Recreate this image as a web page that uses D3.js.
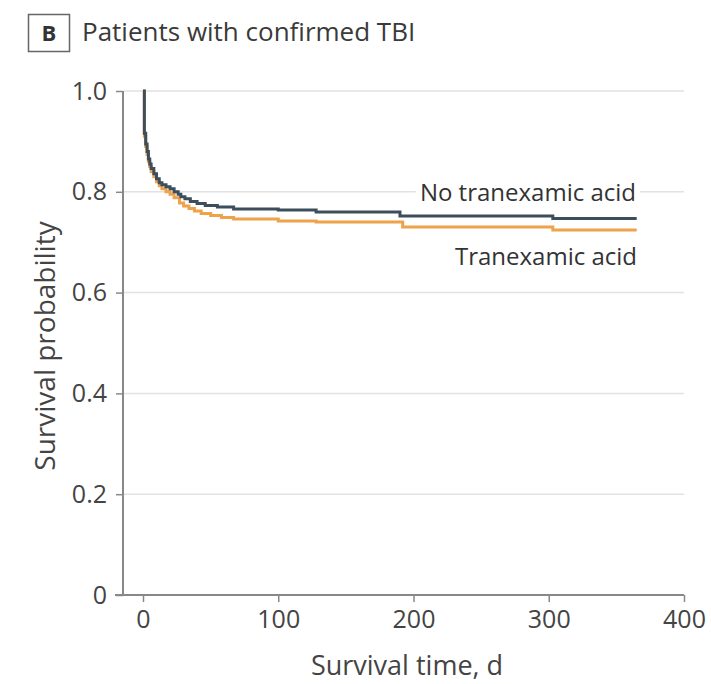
<!DOCTYPE html>
<html><head><meta charset="utf-8">
<script src="https://cdn.jsdelivr.net/npm/d3@7"></script>
<style>body{margin:0;background:#fff;} text{font-family:"Open Sans","Noto Sans",sans-serif;}</style>
</head><body><svg id="c" width="711" height="684"></svg>
<script>
const xTicks = [0, 100, 200, 300, 400];
const yTicks = [0, 0.2, 0.4, 0.6, 0.8, 1.0];
const yTickLabels = ["0", "0.2", "0.4", "0.6", "0.8", "1.0"];
// step points: [day, survival]
const noTxaDays = [0, 1, 2, 3, 4, 5, 6, 8, 10, 12, 14, 17, 20, 23, 26, 28, 31, 35, 40, 46, 55, 67, 100, 128, 190, 303, 365];
const noTxaSurv = [1.0, 0.916, 0.895, 0.88, 0.865, 0.855, 0.846, 0.836, 0.826, 0.818, 0.814, 0.81, 0.806, 0.8, 0.795, 0.79, 0.786, 0.781, 0.777, 0.773, 0.77, 0.766, 0.764, 0.76, 0.752, 0.747, 0.747];
const txaDays = [0, 1, 2, 3, 4, 5, 6, 8, 10, 12, 14, 17, 20, 23, 27, 30, 34, 38, 43, 50, 58, 67, 100, 128, 192, 303, 365];
const txaSurv = [1.0, 0.91, 0.89, 0.874, 0.86, 0.85, 0.84, 0.83, 0.82, 0.812, 0.806, 0.8, 0.795, 0.788, 0.778, 0.772, 0.767, 0.762, 0.757, 0.753, 0.749, 0.746, 0.742, 0.74, 0.73, 0.724, 0.724];
const seriesNames = ["No tranexamic acid", "Tranexamic acid"];
const colors = ["#3c4e5c", "#eea24a"];

const svg = d3.select("#c");
const x = d3.scaleLinear().domain([0, 400]).range([143, 684]);
const y = d3.scaleLinear().domain([0, 1]).range([595, 91]);

// title
svg.append("rect").attr("x", 28.5).attr("y", 14.5).attr("width", 41).attr("height", 37)
  .attr("fill", "none").attr("stroke", "#666").attr("stroke-width", 1.5);
svg.append("text").attr("x", 49).attr("y", 41).attr("text-anchor", "middle")
  .attr("font-size", 22).attr("font-weight", "bold").attr("fill", "#333").text("B");
svg.append("text").attr("x", 82).attr("y", 41).attr("font-size", 26).attr("fill", "#3a3a3a")
  .text("Patients with confirmed TBI");

// gridlines
svg.append("g").selectAll("line").data(yTicks.filter(d => d > 0)).join("line")
  .attr("x1", 124).attr("x2", 684).attr("y1", d => y(d)).attr("y2", d => y(d))
  .attr("stroke", "#e2e2e2").attr("stroke-width", 1.5);

// y axis
const yAxis = d3.axisLeft(y).tickValues(yTicks).tickFormat((d, i) => yTickLabels[i]).tickSize(7).tickPadding(9);
const gy = svg.append("g").attr("transform", "translate(123,0)").call(yAxis);
gy.select(".domain").attr("stroke", "#888").attr("stroke-width", 2).attr("d", `M0,${y(1)}V${y(0)}`);
gy.selectAll(".tick line").attr("stroke", "#888").attr("stroke-width", 1.5);
gy.selectAll(".tick text").attr("font-size", 25).attr("fill", "#444").attr("font-family", "Open Sans");

// x axis
const xAxis = d3.axisBottom(x).tickValues(xTicks).tickSize(7).tickPadding(8);
const gx = svg.append("g").attr("transform", "translate(0,595)").call(xAxis);
gx.select(".domain").attr("stroke", "#888").attr("stroke-width", 2).attr("d", "M115,0H684");
gx.selectAll(".tick line").attr("stroke", "#888").attr("stroke-width", 1.5);
gx.selectAll(".tick text").attr("font-size", 25).attr("fill", "#444").attr("font-family", "Open Sans");

// axis titles
svg.append("text").attr("transform", "translate(55,346) rotate(-90)").attr("text-anchor", "middle")
  .attr("font-size", 28).attr("fill", "#444").text("Survival probability");
svg.append("text").attr("x", 407).attr("y", 675).attr("text-anchor", "middle")
  .attr("font-size", 27).attr("fill", "#444").text("Survival time, d");

// labels with white backgrounds
function label(txt, xr, yc) {
  const g = svg.append("g");
  const r = g.append("rect").attr("fill", "#fff");
  const t = g.append("text").attr("x", xr).attr("y", yc).attr("text-anchor", "end")
    .attr("dominant-baseline", "central").attr("font-size", 24).attr("fill", "#333").text(txt);
  const bb = t.node().getBBox();
  r.attr("x", bb.x - 4).attr("y", bb.y).attr("width", bb.width + 8).attr("height", bb.height);
}
label(seriesNames[0], 636, 191);
label(seriesNames[1], 637, 255);

// curves
const line = d3.line().x(d => x(d[0])).y(d => y(d[1])).curve(d3.curveStepAfter);
[[txaDays, txaSurv, colors[1]], [noTxaDays, noTxaSurv, colors[0]]].forEach(([ds, ss, c]) => {
  svg.append("path").datum(ds.map((d, i) => [d, ss[i]])).attr("d", line)
    .attr("fill", "none").attr("stroke", c).attr("stroke-width", 3);
});
</script></body></html>
